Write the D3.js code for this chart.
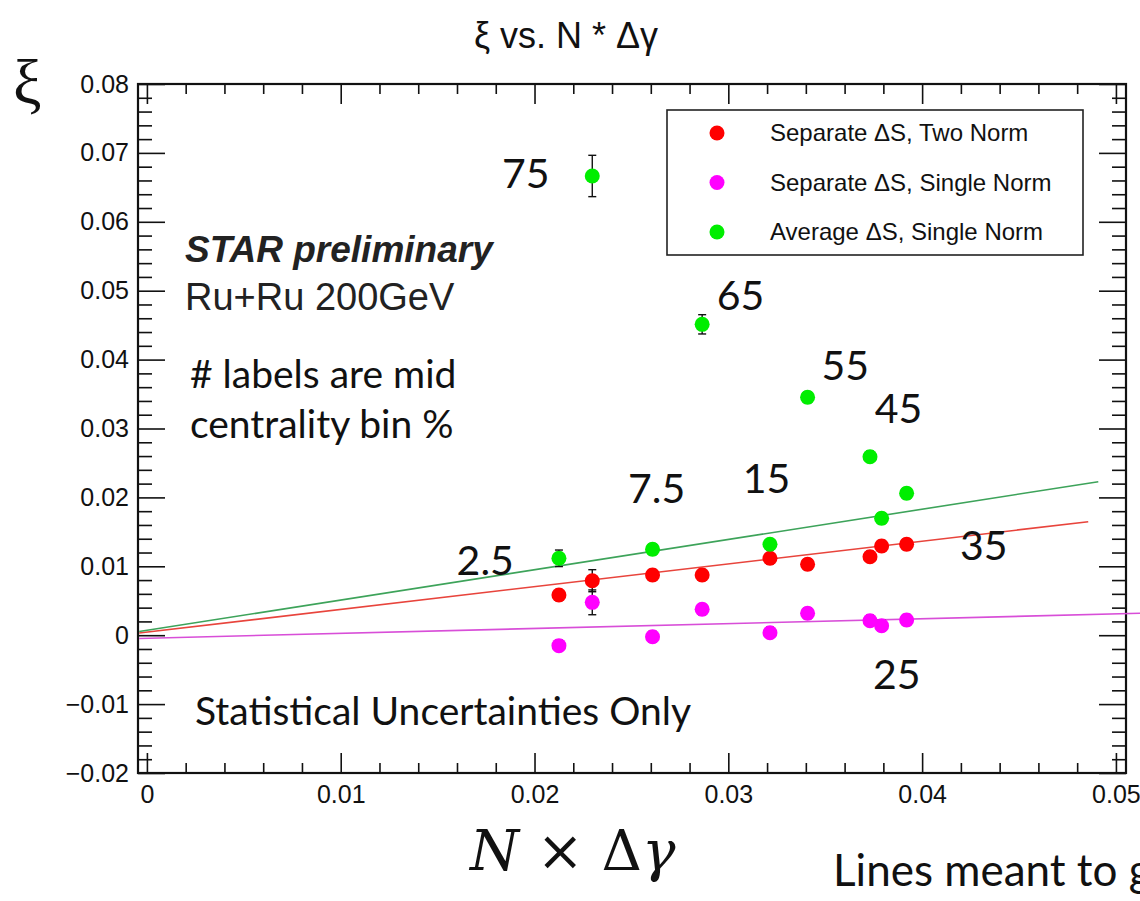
<!DOCTYPE html>
<html>
<head>
<meta charset="utf-8">
<script src="https://cdn.jsdelivr.net/npm/d3@7"></script>
<style>
  body { margin: 0; background: #fff; }
  svg { display: block; }
  .tick line { stroke: #111; stroke-width: 1.6; }
  .domain { display: none; }
  .tick text { font-family: "Liberation Sans", Arial, sans-serif; font-size: 25px; fill: #111; }
</style>
</head>
<body>
<div id="chart"></div>
<script>
// x positions (N * dgamma), shared by the three series
var xVals = [0.02126, 0.02298, 0.02609, 0.02865, 0.03215, 0.03409, 0.03731, 0.03791, 0.03920]

// xi values
var redVals = [0.00583, 0.00791, 0.00874, 0.00874, 0.01116, 0.01029, 0.01139, 0.01295, 0.01319]
var magentaVals = [-0.00152, 0.00477, -0.00022, 0.00376, 0.00036, 0.00318, 0.00210, 0.00138, 0.00221]
var greenVals = [0.01116, 0.06665, 0.01247, 0.04512, 0.01319, 0.03453, 0.02591, 0.01697, 0.02060]

// statistical errors (most are hidden under the markers)
var redErr = [0.0008, 0.0016, 0.0008, 0.0008, 0.0008, 0.0008, 0.0008, 0.0008, 0.0008]
var magentaErr = [0.0008, 0.0018, 0.0008, 0.0008, 0.0008, 0.0008, 0.0008, 0.0008, 0.0008]
var greenErr = [0.0012, 0.0030, 0.0008, 0.0014, 0.0008, 0.0008, 0.0008, 0.0008, 0.0008]

var seriesNames = ["Separate \u0394S, Two Norm", "Separate \u0394S, Single Norm", "Average \u0394S, Single Norm"]
var seriesColors = ["#ff0000", "#ff00ff", "#00ee00"]

// straight fits: [slope, intercept, xStart, xEnd]
var redFit = [0.3301, 0.00044, -0.0004, 0.04857]
var magentaFit = [0.0706, -0.00044, -0.0004, 0.0530]
var greenFit = [0.4394, 0.00071, -0.0004, 0.04909]
var fitColors = ["#e8443c", "#d84ed8", "#3da35a"]

// centrality labels (mid bin %) and where they sit, in data units
var centLabels = ["75", "65", "55", "45", "7.5", "15", "2.5", "35", "25"]
var centX = [0.01832, 0.02940, 0.03481, 0.03756, 0.02482, 0.03075, 0.01598, 0.04195, 0.03746]
var centY = [0.06491, 0.04727, 0.03711, 0.03075, 0.01920, 0.02059, 0.00874, 0.01091, -0.0078]

var xTicks = [0, 0.01, 0.02, 0.03, 0.04, 0.05]
var xTickLabels = ["0", "0.01", "0.02", "0.03", "0.04", "0.05"]
var yTicks = [-0.02, -0.01, 0, 0.01, 0.02, 0.03, 0.04, 0.05, 0.06, 0.07, 0.08]
var yTickLabels = ["\u22120.02", "\u22120.01", "0", "0.01", "0.02", "0.03", "0.04", "0.05", "0.06", "0.07", "0.08"]

var svgWdth = 1140
var svgHt = 901
var margin = { top: 84, left: 138, right: 14, bottom: 128 }
var width = svgWdth - margin.left - margin.right
var height = svgHt - margin.top - margin.bottom

var svg = d3.select("#chart").append("svg")
    .attr("width", svgWdth)
    .attr("height", svgHt)
svg.append("rect").attr("width", svgWdth).attr("height", svgHt).attr("fill", "#fff")

var x = d3.scaleLinear().domain([-0.00046, 0.05052]).range([0, width])
var y = d3.scaleLinear().domain([-0.02, 0.08]).range([height, 0])

var g = svg.append("g").attr("transform", `translate(${margin.left}, ${margin.top})`)

// minor tick values
var xMinor = d3.range(0, 51).map(function(i) { return i * 0.001 }).filter(function(v, i) { return i % 2 == 0 && i % 10 != 0 })
var yMinor = d3.range(-10, 41).map(function(i) { return i * 0.002 }).filter(function(v, i) { return i % 5 != 0 })

// bottom axis
g.append("g").attr("transform", `translate(0, ${height})`)
    .call(d3.axisBottom(x).tickValues(xTicks).tickSize(-20).tickPadding(12)
        .tickFormat(function(d, i) { return xTickLabels[i] }))
g.append("g").attr("transform", `translate(0, ${height})`)
    .call(d3.axisBottom(x).tickValues(xMinor).tickSize(-10).tickFormat(""))
// top axis
g.append("g").call(d3.axisTop(x).tickValues(xTicks).tickSize(-20).tickFormat(""))
g.append("g").call(d3.axisTop(x).tickValues(xMinor).tickSize(-10).tickFormat(""))
// left axis
g.append("g")
    .call(d3.axisLeft(y).tickValues(yTicks).tickSize(-27).tickPadding(9)
        .tickFormat(function(d, i) { return yTickLabels[i] }))
g.append("g").call(d3.axisLeft(y).tickValues(yMinor).tickSize(-14).tickFormat(""))
// right axis
g.append("g").attr("transform", `translate(${width}, 0)`)
    .call(d3.axisRight(y).tickValues(yTicks).tickSize(-27).tickFormat(""))
g.append("g").attr("transform", `translate(${width}, 0)`)
    .call(d3.axisRight(y).tickValues(yMinor).tickSize(-14).tickFormat(""))

// frame
g.append("rect").attr("width", width).attr("height", height)
    .attr("fill", "none").attr("stroke", "#111").attr("stroke-width", 2.2)

// fit lines
var fits = [redFit, magentaFit, greenFit]
fits.forEach(function(f, k) {
  var pts = [f[2], f[3]].map(function(v) { return [v, f[0] * v + f[1]] })
  g.append("path")
      .attr("d", d3.line().x(function(d) { return x(d[0]) }).y(function(d) { return y(d[1]) })(pts))
      .attr("fill", "none")
      .attr("stroke", fitColors[k])
      .attr("stroke-width", 1.6)
})

// points with error bars
var allVals = [redVals, magentaVals, greenVals]
var allErr = [redErr, magentaErr, greenErr]
allVals.forEach(function(vals, k) {
  var data = vals.map(function(v, i) { return { x: xVals[i], y: v, e: allErr[k][i] } })
  var eb = g.append("g").attr("stroke", "#111").attr("stroke-width", 1.4)
  eb.selectAll(".bar").data(data).enter().append("line")
      .attr("x1", function(d) { return x(d.x) }).attr("x2", function(d) { return x(d.x) })
      .attr("y1", function(d) { return y(d.y + d.e) }).attr("y2", function(d) { return y(d.y - d.e) })
  ;[1, -1].forEach(function(s) {
    eb.selectAll(".cap" + s).data(data).enter().append("line")
        .attr("x1", function(d) { return x(d.x) - 4 }).attr("x2", function(d) { return x(d.x) + 4 })
        .attr("y1", function(d) { return y(d.y + s * d.e) }).attr("y2", function(d) { return y(d.y + s * d.e) })
  })
  g.append("g").selectAll("circle").data(data).enter().append("circle")
      .attr("cx", function(d) { return x(d.x) })
      .attr("cy", function(d) { return y(d.y) })
      .attr("r", 7.5)
      .attr("fill", seriesColors[k])
})

// legend
var leg = svg.append("g").attr("transform", "translate(667, 110)")
leg.append("rect").attr("width", 416).attr("height", 145)
    .attr("fill", "#fff").attr("stroke", "#222").attr("stroke-width", 1.6)
seriesNames.forEach(function(name, k) {
  var ly = 23 + k * 49.5
  leg.append("circle").attr("cx", 50).attr("cy", ly).attr("r", 7.5).attr("fill", seriesColors[k])
  leg.append("text").attr("x", 103).attr("y", ly + 8)
      .attr("font-family", "Liberation Sans, Arial, sans-serif").attr("font-size", 24).attr("fill", "#111")
      .text(name)
})

// centrality labels
g.selectAll(".cent").data(centLabels).enter().append("text")
    .attr("x", function(d, i) { return x(centX[i]) })
    .attr("y", function(d, i) { return y(centY[i]) })
    .attr("font-family", "Lato, Calibri, sans-serif").attr("font-size", 41).attr("fill", "#111")
    .text(function(d) { return d })

// text annotations
svg.append("text").attr("x", 566).attr("y", 48).attr("text-anchor", "middle")
    .attr("font-family", "Liberation Sans, Arial, sans-serif").attr("font-size", 36).attr("fill", "#111")
    .text("\u03be vs. N * \u0394\u03b3")
svg.append("text").attr("x", 13).attr("y", 104)
    .attr("font-family", "Liberation Serif, serif").attr("font-size", 64).attr("fill", "#111")
    .text("\u03be")
svg.append("text").attr("x", 185).attr("y", 262)
    .attr("font-family", "Liberation Sans, Arial, sans-serif").attr("font-size", 37)
    .attr("font-weight", "bold").attr("font-style", "italic").attr("fill", "#222")
    .text("STAR preliminary")
svg.append("text").attr("x", 185).attr("y", 310)
    .attr("font-family", "Liberation Sans, Arial, sans-serif").attr("font-size", 38).attr("fill", "#222")
    .text("Ru+Ru 200GeV")
svg.append("text").attr("x", 190).attr("y", 388)
    .attr("font-family", "Lato, Calibri, sans-serif").attr("font-size", 39).attr("fill", "#111")
    .text("# labels are mid")
svg.append("text").attr("x", 190).attr("y", 438)
    .attr("font-family", "Lato, Calibri, sans-serif").attr("font-size", 39).attr("fill", "#111")
    .text("centrality bin %")
svg.append("text").attr("x", 195).attr("y", 725)
    .attr("font-family", "Lato, Calibri, sans-serif").attr("font-size", 39).attr("fill", "#111")
    .text("Statistical Uncertainties Only")

var xl = svg.append("text").attr("x", 470).attr("y", 870)
    .attr("font-family", "DejaVu Serif, serif").attr("font-size", 56).attr("fill", "#111")
xl.append("tspan").attr("font-style", "italic").text("N")
xl.append("tspan").text(" \u00d7 \u0394")
xl.append("tspan").attr("font-style", "italic").text("\u03b3")

// note runs off the right edge, as in the original slide
svg.append("text").attr("x", 833).attr("y", 886)
    .attr("font-family", "Lato, Calibri, sans-serif").attr("font-size", 44).attr("fill", "#111")
    .text("Lines meant to guide the eye")
</script>
</body>
</html>
